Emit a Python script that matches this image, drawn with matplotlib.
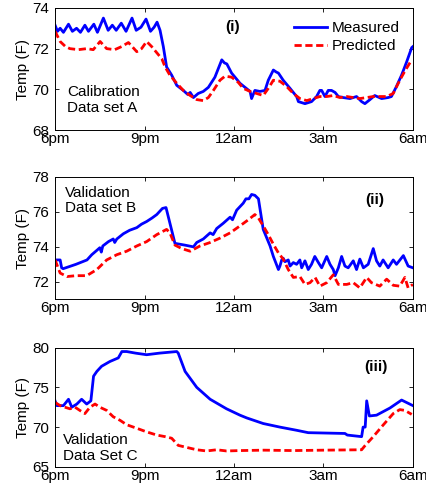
import matplotlib
matplotlib.use("Agg")
import matplotlib.pyplot as plt

plt.rcParams["font.family"] = ["Liberation Sans", "DejaVu Sans"]
plt.rcParams["font.size"] = 11

# ---------------------------------------------------------------------------
# Data (hours after 6pm, temperature in F)
# ---------------------------------------------------------------------------
a_meas_t = [0.00, 0.08, 0.17, 0.28, 0.45, 0.58, 0.72, 0.85, 1.00, 1.12, 1.30, 1.42,
            1.62, 1.78, 1.92, 2.05, 2.22, 2.38, 2.58, 2.72, 2.88, 3.05, 3.20, 3.32,
            3.42, 3.52, 3.63, 3.74, 3.91, 4.08, 4.30, 4.45, 4.53, 4.64, 4.80, 4.97,
            5.14, 5.36, 5.59, 5.68, 5.76, 5.92, 6.09, 6.20, 6.37, 6.54, 6.59, 6.70,
            6.87, 7.04, 7.15, 7.32, 7.42, 7.49, 7.65, 7.88, 8.10, 8.16, 8.38, 8.60,
            8.77, 8.88, 8.94, 9.05, 9.16, 9.27, 9.39, 9.50, 9.66, 9.89, 10.11, 10.28,
            10.39, 10.56, 10.72, 10.95, 11.17, 11.28, 11.45, 11.62, 11.79, 11.96, 12.0]
a_meas_v = [73.15, 72.85, 73.0, 72.8, 73.2, 72.85, 73.0, 72.8, 73.15, 72.85, 73.2, 72.8,
            73.5, 72.9, 73.15, 72.9, 73.25, 72.85, 73.5, 72.9, 73.05, 73.45, 72.85, 73.05,
            73.3, 72.9, 72.1, 71.1, 70.7, 70.2, 69.95, 69.75, 69.85, 69.6, 69.8, 69.9,
            70.1, 70.6, 71.45, 71.3, 71.25, 70.8, 70.5, 70.3, 70.1, 69.9, 69.55, 69.95,
            69.9, 69.95, 70.45, 70.95, 70.85, 70.8, 70.45, 70.05, 69.65, 69.4, 69.3, 69.4,
            69.65, 69.95, 69.95, 69.65, 69.95, 69.95, 69.85, 69.65, 69.6, 69.55, 69.65, 69.4,
            69.3, 69.5, 69.7, 69.55, 69.6, 69.65, 70.15, 70.7, 71.35, 72.05, 72.1]
a_pred_t = [0.00, 0.17, 0.35, 0.50, 0.78, 1.06, 1.28, 1.51, 1.73, 2.00, 2.23, 2.46,
            2.74, 2.90, 3.07, 3.24, 3.41, 3.58, 3.69, 3.85, 4.08, 4.30, 4.53, 4.75,
            4.97, 5.14, 5.31, 5.53, 5.70, 5.92, 6.14, 6.31, 6.54, 6.76, 6.98, 7.15,
            7.32, 7.54, 7.76, 7.99, 8.21, 8.44, 8.66, 8.88, 9.11, 9.33, 9.55, 9.78,
            10.0, 10.22, 10.45, 10.67, 10.89, 11.12, 11.34, 11.56, 11.73, 11.96]
a_pred_v = [72.85, 72.35, 72.1, 72.0, 71.95, 72.0, 71.95, 72.35, 72.0, 71.95, 72.1, 72.3,
            71.85, 72.0, 72.35, 72.1, 71.8, 71.5, 71.1, 70.7, 70.3, 69.95, 69.7, 69.5,
            69.45, 69.6, 69.95, 70.45, 70.65, 70.6, 70.35, 70.05, 69.9, 69.8, 69.7, 70.05,
            70.45, 70.4, 70.15, 69.8, 69.55, 69.45, 69.55, 69.65, 69.65, 69.7, 69.6, 69.65,
            69.6, 69.55, 69.6, 69.65, 69.65, 69.65, 69.8, 70.45, 70.9, 71.45]

b_meas_t = [0.00, 0.17, 0.22, 0.27, 0.70, 1.07, 1.23, 1.40, 1.50, 1.55, 1.60, 1.79,
            1.95, 2.00, 2.07, 2.29, 2.50, 2.74, 2.90, 3.07, 3.25, 3.41, 3.60, 3.72,
            4.02, 4.35, 4.64, 4.75, 4.97, 5.20, 5.30, 5.42, 5.64, 5.87, 5.95, 6.09,
            6.31, 6.40, 6.50, 6.59, 6.70, 6.82, 6.98, 7.21, 7.32, 7.49, 7.54, 7.60,
            7.65, 7.71, 7.82, 7.88, 7.99, 8.10, 8.21, 8.27, 8.38, 8.49, 8.60, 8.71,
            8.83, 8.94, 9.11, 9.22, 9.33, 9.39, 9.50, 9.61, 9.72, 9.83, 10.0, 10.11,
            10.22, 10.34, 10.50, 10.67, 10.78, 10.89, 11.0, 11.17, 11.34, 11.45, 11.68,
            11.84, 12.0]
b_meas_v = [73.25, 73.25, 72.8, 72.75, 73.0, 73.25, 73.55, 73.8, 73.95, 73.7, 74.05, 74.3,
            74.45, 74.25, 74.45, 74.75, 74.95, 75.1, 75.3, 75.45, 75.65, 75.85, 76.2, 76.25,
            74.2, 74.1, 74.0, 74.25, 74.45, 74.8, 74.7, 75.05, 75.35, 75.7, 75.55, 76.1,
            76.5, 76.75, 76.75, 77.0, 76.95, 76.75, 75.0, 74.05, 73.45, 72.7, 72.9, 73.25,
            73.35, 73.15, 73.25, 72.9, 73.1, 73.0, 73.25, 72.8, 73.2, 72.7, 73.0, 73.45,
            73.1, 72.8, 73.45, 73.0, 72.7, 72.35, 72.8, 73.45, 72.9, 72.8, 73.2, 72.7,
            73.3, 72.8, 73.0, 73.9, 73.2, 72.9, 73.25, 72.8, 73.25, 73.0, 73.5,
            72.9, 72.8]
b_pred_t = [0.00, 0.17, 0.40, 0.70, 1.06, 1.40, 1.73, 2.07, 2.40, 2.74, 3.07, 3.41,
            3.74, 3.85, 4.02, 4.25, 4.53, 4.86, 5.20, 5.53, 5.87, 6.20, 6.48, 6.70,
            6.82, 6.98, 7.15, 7.32, 7.49, 7.65, 7.82, 7.99, 8.21, 8.38, 8.55, 8.72,
            8.88, 9.11, 9.33, 9.50, 9.78, 10.0, 10.22, 10.45, 10.61, 10.89, 11.12, 11.34,
            11.56, 11.73, 11.84, 12.0]
b_pred_v = [73.25, 72.5, 72.3, 72.35, 72.35, 72.7, 73.25, 73.55, 73.75, 74.05, 74.3, 74.7,
            75.0, 74.8, 74.1, 73.9, 73.75, 74.05, 74.25, 74.5, 74.8, 75.2, 75.55, 75.85,
            75.65, 75.2, 74.7, 74.15, 73.65, 73.3, 72.7, 72.25, 72.3, 71.85, 71.95, 72.25,
            71.75, 71.95, 72.4, 71.85, 71.85, 71.95, 71.65, 72.25, 71.95, 71.75, 72.15, 71.8,
            71.75, 72.25, 71.65, 71.85]

c_meas_t = [0.00, 0.06, 0.28, 0.45, 0.56, 0.73, 0.89, 1.06, 1.20, 1.29, 1.40, 1.56,
            1.84, 2.12, 2.24, 2.40, 2.70, 3.07, 3.50, 4.08, 4.13, 4.36, 4.75, 5.20,
            5.75, 6.20, 6.43, 6.98, 7.54, 8.10, 8.49, 9.72, 9.80, 10.28, 10.33, 10.40,
            10.45, 10.54, 10.78, 11.23, 11.62, 12.0]
c_meas_v = [73.3, 72.7, 72.7, 73.5, 72.5, 72.9, 73.5, 72.9, 73.3, 76.4, 77.0, 77.65,
            78.25, 78.7, 79.5, 79.5, 79.3, 79.1, 79.3, 79.5, 79.3, 77.0, 75.0, 73.5,
            72.3, 71.5, 71.15, 70.45, 70.0, 69.6, 69.3, 69.2, 69.0, 68.8, 70.0, 70.0,
            73.3, 71.4, 71.5, 72.4, 73.4, 72.7]
c_pred_t = [0.00, 0.17, 0.33, 0.50, 0.67, 0.83, 1.00, 1.17, 1.34, 1.50, 1.73, 1.95,
            2.18, 2.40, 2.74, 3.07, 3.41, 3.69, 3.91, 4.13, 4.41, 4.75, 5.08, 5.42,
            5.75, 6.20, 7.00, 8.00, 9.00, 10.28, 10.39, 10.67, 11.0, 11.34, 11.56, 11.73,
            11.96]
c_pred_v = [73.1, 72.7, 72.5, 72.3, 72.5, 72.1, 71.7, 72.5, 72.9, 72.5, 72.1, 71.3,
            70.85, 70.3, 69.85, 69.4, 69.0, 68.8, 68.6, 67.7, 67.45, 67.15, 67.0, 67.15,
            67.0, 67.05, 67.1, 67.05, 67.1, 67.15, 67.65, 68.8, 70.25, 71.7, 72.2, 72.1,
            71.6]

x_ticks = [0, 3, 6, 9, 12]
x_labels = ["6pm", "9pm", "12am", "3am", "6am"]

panels = [
    (a_meas_t, a_meas_v, a_pred_t, a_pred_v, (68, 74), [68, 70, 72, 74],
     "Calibration\nData set A", "(i)"),
    (b_meas_t, b_meas_v, b_pred_t, b_pred_v, (71, 78), [72, 74, 76, 78],
     "Validation\nData set B", "(ii)"),
    (c_meas_t, c_meas_v, c_pred_t, c_pred_v, (65, 80), [65, 70, 75, 80],
     "Validation\nData Set C", "(iii)"),
]

# axes boxes in figure fraction (left, bottom, width, height)
boxes = [(0.129, 0.736, 0.838, 0.248),
         (0.129, 0.393, 0.838, 0.248),
         (0.129, 0.053, 0.838, 0.242)]
note_pos = [(0.034, 0.37), (0.028, 0.93), (0.023, 0.28)]
tag_pos = [(0.497, 0.84), (0.894, 0.81), (0.897, 0.835)]

fig = plt.figure(figsize=(4.27, 4.93), dpi=100)
for i, (mt, mv, pt, pv, ylim, yt, note, tag) in enumerate(panels):
    ax = fig.add_axes(boxes[i])
    ax.plot(mt, mv, color="#0000ff", lw=2.0, label="Measured")
    ax.plot(pt, pv, color="#ff0000", lw=2.0, linestyle=(0, (2.6, 1.3)),
            label="Predicted")
    ax.set_xlim(0, 12)
    ax.set_ylim(*ylim)
    ax.set_xticks(x_ticks)
    ax.set_xticklabels(x_labels)
    ax.set_yticks(yt)
    ax.set_ylabel("Temp (F)", labelpad=2)
    ax.tick_params(direction="in", top=True, right=True, length=3, width=0.6,
                   labelsize=11)
    ax.tick_params(axis="x", pad=1.5)
    ax.tick_params(axis="y", pad=4)
    for s in ax.spines.values():
        s.set_linewidth(0.7)
    ax.text(note_pos[i][0], note_pos[i][1], note, transform=ax.transAxes,
            ha="left", va="top", fontsize=11, linespacing=1.15)
    ax.text(tag_pos[i][0], tag_pos[i][1], tag, transform=ax.transAxes,
            ha="center", va="center", fontsize=11, fontweight="bold")
    if i == 0:
        ax.legend(loc="upper right", frameon=False, fontsize=11,
                  handlelength=2.2, handletextpad=0.3, labelspacing=0.3,
                  borderaxespad=0.45, bbox_to_anchor=(1.0, 1.0))

fig.savefig("out.png", dpi=100)
